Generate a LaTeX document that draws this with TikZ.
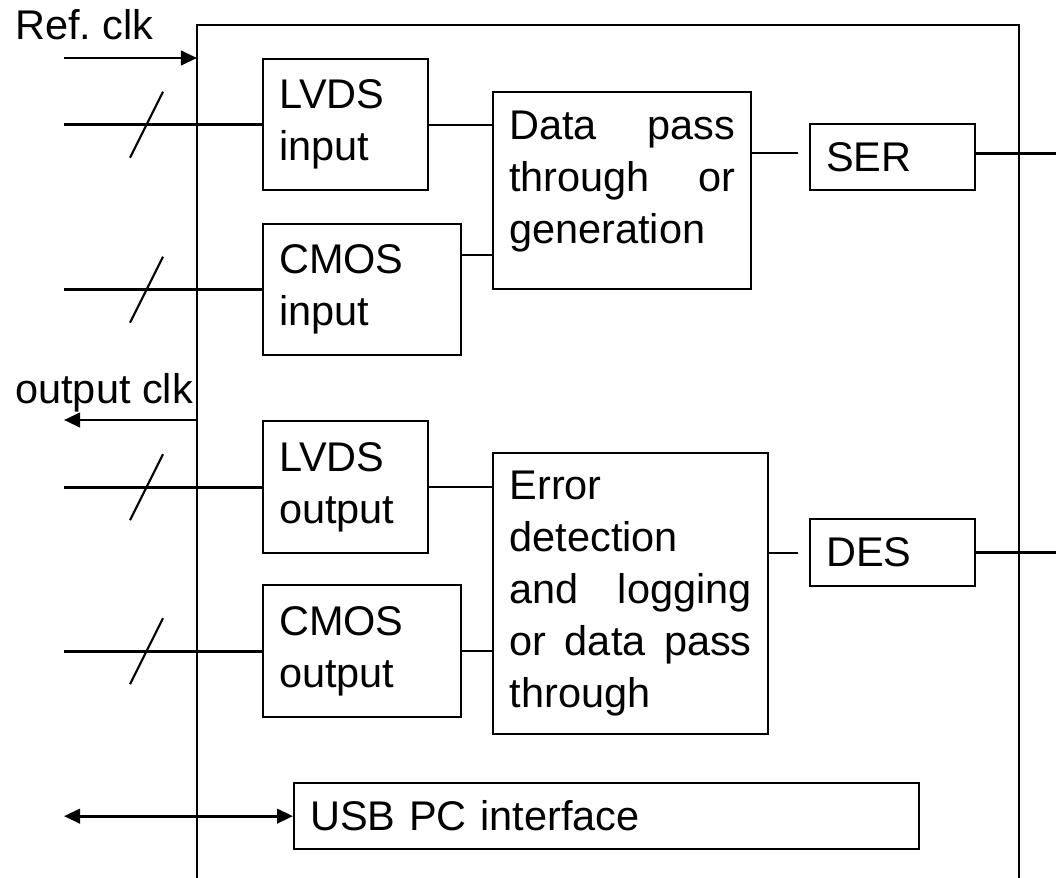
\documentclass[tikz,border=0pt]{standalone}
\usepackage{fontspec}
\setmainfont{Liberation Sans}
\usetikzlibrary{arrows.meta,calc}
\frenchspacing

\tikzset{
  blk/.style={draw, line width=1.6pt, anchor=north west, align=left,
    inner xsep=0.4cm, inner ysep=0pt, font=\fontsize{29.5}{37}\selectfont},
  lbl/.style={anchor=base west, inner sep=0pt, font=\fontsize{29.5}{37}\selectfont},
  wire/.style={line width=2pt},
  link/.style={line width=1.5pt},
  bus/.style={line width=1.5pt},
  tip/.style={-{Triangle[length=0.4cm,width=0.36cm]}}
}

\begin{document}
\begin{tikzpicture}[x=0.025cm, y=-0.025cm]

\useasboundingbox (0,0) rectangle (1056,878);

\draw [line width=1.5pt] (197,878) -- (197,25) -- (1019,25) -- (1019,878);

\coordinate (inL) at (64,0);
\coordinate (outR) at (1056,0);
\coordinate (rim) at (197,0);
\coordinate (refsrc) at (64,58);
\coordinate (outsrc) at (197,420);

\node [lbl] (refclk) at (15,40) {Ref. clk};
\node [lbl] (outclk) at (15,403) {output clk};

\node [blk, minimum width=4.125cm, text width=3.325cm, minimum height=3.275cm] (lvdsin) at (262,58) {LVDS\\input};
\node [blk, minimum width=4.95cm, text width=4.15cm, minimum height=3.275cm] (cmosin) at (262,223) {CMOS\\input};
\node [blk, minimum width=6.45cm, text width=5.65cm, text height=1.175cm, text depth=3.75cm] (data) at (492,91) {Data \hfill pass\\through \hfill or\\generation};
\node [blk, minimum width=4.125cm, text width=3.325cm, minimum height=1.65cm] (ser) at (809,123) {SER};

\node [blk, minimum width=4.125cm, text width=3.325cm, minimum height=3.3cm] (lvdsout) at (262,420) {LVDS\\output};
\node [blk, minimum width=4.95cm, text width=4.15cm, minimum height=3.3cm] (cmosout) at (262,584) {CMOS\\output};
\node [blk, minimum width=6.875cm, text width=6.05cm, minimum height=7.025cm] (error) at (492,452) {Error\\detection\\and \hfill logging\\or \hfill data \hfill pass\\through};
\node [blk, minimum width=4.125cm, text width=3.325cm, minimum height=1.675cm] (des) at (809,518) {DES};

\node [blk, minimum width=15.625cm, text width=14.825cm, minimum height=1.65cm] (usb) at (293,782) {USB PC interface};

\draw [wire, tip] (refsrc) -- (refsrc -| rim);
\draw [wire, tip] (outsrc) -- (outsrc -| inL);
\draw [wire, {Triangle[length=0.4cm,width=0.36cm]}-{Triangle[length=0.4cm,width=0.36cm]}] (usb.west -| inL) -- (usb.west);

\foreach \n in {lvdsin, cmosin, lvdsout, cmosout} {
  \draw [wire] (\n.west -| inL) -- (\n.west);
  \draw [bus] ($(\n.west -| inL) + (66,33)$) -- ++(33,-66);
}

\draw [link] (lvdsin.east) -- (lvdsin.east -| data.west);
\draw [link] (cmosin.north east) ++(0,32) coordinate (c1) -- (c1 -| data.west);
\draw [link, shorten >=0.275cm] ([yshift=0.1cm]ser.west -| data.east) -- ([yshift=0.1cm]ser.west);
\draw [wire] ([yshift=0.1cm]ser.east) -- ([yshift=0.1cm]ser.east -| outR);

\draw [link] (lvdsout.east) -- (lvdsout.east -| error.west);
\draw [link] (cmosout.east) -- (cmosout.east -| error.west);
\draw [link, shorten >=0.275cm] (des.west -| error.east) -- (des.west);
\draw [wire] (des.east) -- (des.east -| outR);

\end{tikzpicture}
\end{document}
